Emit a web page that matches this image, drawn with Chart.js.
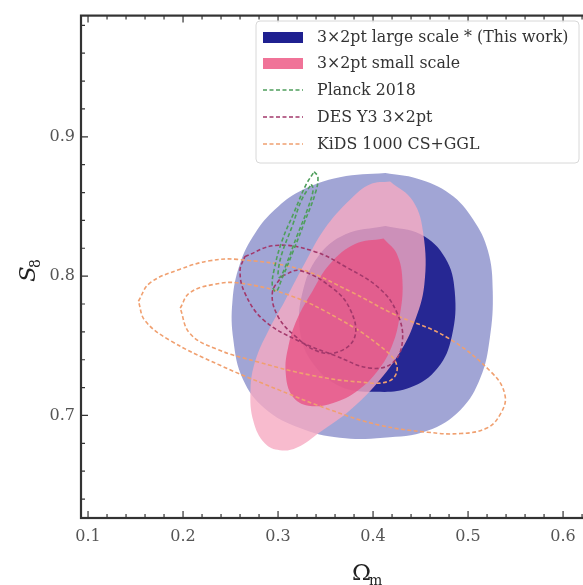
<!DOCTYPE html>
<html><head><meta charset="utf-8">
<script src="https://cdn.jsdelivr.net/npm/chart.js@4.4.1/dist/chart.umd.min.js"></script>
<style>html,body{margin:0;padding:0;overflow:hidden;background:#fff;width:583px;height:585px}
#wrap{width:650px;height:585px}</style></head><body>
<div id="wrap"><canvas id="c" width="650" height="585"></canvas></div>
<script>
// ---- tick labels ----
const xTicks = [0.1, 0.2, 0.3, 0.4, 0.5, 0.6];
const yTicks = [0.7, 0.8, 0.9];
const xMinor = [0.12,0.14,0.16,0.18,0.22,0.24,0.26,0.28,0.32,0.34,0.36,0.38,0.42,0.44,0.46,0.48,0.52,0.54,0.56,0.58,0.62,0.64,0.66,0.68];
const yMinor = [0.64,0.66,0.68,0.72,0.74,0.76,0.78,0.82,0.84,0.86,0.88,0.92,0.94,0.96,0.98];
const legendLabels = ["3\u00d72pt large scale * (This work)", "3\u00d72pt small scale", "Planck 2018", "DES Y3 3\u00d72pt", "KiDS 1000 CS+GGL"];

// ---- contour vertices (Omega_m, S8) ----
const large2 = [[0.413,0.874],[0.446,0.870],[0.481,0.859],[0.505,0.841],[0.521,0.818],[0.526,0.789],[0.523,0.756],[0.513,0.727],[0.492,0.704],[0.457,0.689],[0.411,0.684],[0.365,0.684],[0.323,0.691],[0.286,0.705],[0.263,0.726],[0.253,0.754],[0.252,0.782],[0.260,0.809],[0.276,0.831],[0.297,0.848],[0.323,0.861],[0.365,0.871]];
const large1 = [[0.413,0.836],[0.450,0.830],[0.476,0.813],[0.486,0.789],[0.483,0.757],[0.468,0.734],[0.439,0.720],[0.402,0.717],[0.365,0.721],[0.336,0.738],[0.323,0.761],[0.326,0.789],[0.342,0.814],[0.371,0.830]];
const small2 = [[0.418,0.868],[0.442,0.854],[0.453,0.830],[0.454,0.794],[0.443,0.766],[0.428,0.745],[0.404,0.723],[0.376,0.704],[0.344,0.688],[0.320,0.677],[0.302,0.675],[0.286,0.680],[0.274,0.696],[0.271,0.718],[0.276,0.739],[0.290,0.761],[0.307,0.782],[0.328,0.809],[0.349,0.834],[0.376,0.855],[0.397,0.866]];
const small1 = [[0.411,0.827],[0.425,0.816],[0.431,0.796],[0.428,0.771],[0.420,0.750],[0.405,0.732],[0.384,0.718],[0.358,0.709],[0.332,0.707],[0.315,0.714],[0.308,0.731],[0.311,0.750],[0.320,0.769],[0.336,0.789],[0.355,0.809],[0.381,0.823]];
const planck2 = [[0.338,0.875],[0.342,0.871],[0.339,0.859],[0.328,0.839],[0.316,0.818],[0.304,0.798],[0.298,0.789],[0.294,0.793],[0.296,0.805],[0.304,0.825],[0.317,0.846],[0.329,0.865]];
const planck1 = [[0.335,0.866],[0.337,0.862],[0.331,0.848],[0.320,0.829],[0.309,0.809],[0.302,0.799],[0.300,0.802],[0.304,0.816],[0.315,0.836],[0.325,0.855]];
const des2 = [[0.265,0.814],[0.297,0.822],[0.337,0.818],[0.373,0.806],[0.407,0.791],[0.425,0.774],[0.431,0.754],[0.421,0.738],[0.397,0.734],[0.360,0.743],[0.320,0.754],[0.284,0.769],[0.265,0.788],[0.260,0.804]];
const des1 = [[0.304,0.800],[0.323,0.804],[0.358,0.791],[0.376,0.776],[0.381,0.757],[0.365,0.746],[0.342,0.746],[0.318,0.757],[0.300,0.771],[0.294,0.788]];
const kids2 = [[0.153,0.782],[0.165,0.795],[0.197,0.805],[0.228,0.811],[0.257,0.812],[0.323,0.805],[0.376,0.789],[0.421,0.773],[0.478,0.756],[0.526,0.730],[0.539,0.714],[0.534,0.701],[0.520,0.691],[0.492,0.687],[0.457,0.688],[0.407,0.693],[0.355,0.704],[0.302,0.718],[0.239,0.736],[0.186,0.754],[0.160,0.768]];
const kids1 = [[0.197,0.777],[0.207,0.788],[0.232,0.794],[0.260,0.795],[0.313,0.786],[0.365,0.769],[0.407,0.750],[0.425,0.736],[0.418,0.725],[0.386,0.724],[0.334,0.729],[0.281,0.738],[0.234,0.748],[0.207,0.759]];

const closed = arr => arr.concat([arr[0]]).map(p => ({x: p[0], y: p[1]}));
const filled = (d, color, order) => ({data: closed(d), showLine: true, fill: 'shape', backgroundColor: color, borderColor: 'rgba(0,0,0,0)', borderWidth: 0, pointRadius: 0, tension: 0.4, order});
const dashed = (d, color, order) => ({data: closed(d), showLine: true, fill: false, borderColor: color, borderWidth: 1.6, borderDash: [4, 2.5], pointRadius: 0, tension: 0.4, order});

const colLarge2 = 'rgba(40,50,160,0.44)', colLarge1 = 'rgba(25,25,140,0.9)';
const colSmall2 = 'rgba(246,170,194,0.8)', colSmall1 = 'rgba(232,82,132,0.8)';
const colPlanck = '#4f9e5c', colDES = '#a3386b', colKiDS = '#f0a070';

const SERIF = '"DejaVu Serif", "Liberation Serif", serif';

const decor = {
  id: 'decor',
  afterDraw(chart) {
    const {ctx, chartArea: a, scales: {x, y}} = chart;
    ctx.save();
    ctx.strokeStyle = '#333';
    ctx.lineWidth = 1.2;
    ctx.beginPath();
    xMinor.forEach(v => { const p = x.getPixelForValue(v); ctx.moveTo(p, a.bottom); ctx.lineTo(p, a.bottom - 4); ctx.moveTo(p, a.top); ctx.lineTo(p, a.top + 4); });
    yMinor.forEach(v => { const p = y.getPixelForValue(v); ctx.moveTo(a.left, p); ctx.lineTo(a.left + 4, p); ctx.moveTo(a.right, p); ctx.lineTo(a.right - 4, p); });
    xTicks.forEach(v => { const p = x.getPixelForValue(v); ctx.moveTo(p, a.bottom); ctx.lineTo(p, a.bottom - 7); ctx.moveTo(p, a.top); ctx.lineTo(p, a.top + 7); });
    yTicks.forEach(v => { const p = y.getPixelForValue(v); ctx.moveTo(a.left, p); ctx.lineTo(a.left + 7, p); ctx.moveTo(a.right, p); ctx.lineTo(a.right - 7, p); });
    ctx.stroke();
    ctx.lineWidth = 2.2;
    ctx.strokeRect(a.left, a.top, a.right - a.left, a.bottom - a.top);

    // axis titles
    ctx.fillStyle = '#222';
    ctx.textBaseline = 'alphabetic';
    ctx.font = '23px ' + SERIF;
    ctx.fillText('\u03a9', 352, 580);
    ctx.font = '14px ' + SERIF;
    ctx.fillText('m', 369, 585);
    ctx.save();
    ctx.translate(35, 282);
    ctx.rotate(-Math.PI / 2);
    ctx.font = 'italic 23px ' + SERIF;
    ctx.fillText('S', 0, 0);
    ctx.font = '14px ' + SERIF;
    ctx.fillText('8', 14, 5);
    ctx.restore();

    // legend
    const L = 256, T = 21, R = 579, B = 163, r = 4;
    ctx.beginPath();
    ctx.moveTo(L + r, T); ctx.lineTo(R - r, T); ctx.quadraticCurveTo(R, T, R, T + r);
    ctx.lineTo(R, B - r); ctx.quadraticCurveTo(R, B, R - r, B);
    ctx.lineTo(L + r, B); ctx.quadraticCurveTo(L, B, L, B - r);
    ctx.lineTo(L, T + r); ctx.quadraticCurveTo(L, T, L + r, T);
    ctx.closePath();
    ctx.fillStyle = 'rgba(255,255,255,0.85)';
    ctx.fill();
    ctx.strokeStyle = '#d8d8d8';
    ctx.lineWidth = 1;
    ctx.stroke();
    const rows = [37, 63, 90, 117, 144];
    ctx.fillStyle = '#1f2090'; ctx.fillRect(263, rows[0] - 5, 40, 11);
    ctx.fillStyle = '#f07398'; ctx.fillRect(263, rows[1] - 5, 40, 11);
    [[colPlanck, 2], [colDES, 3], [colKiDS, 4]].forEach(([c, i]) => {
      ctx.strokeStyle = c; ctx.lineWidth = 1.6; ctx.setLineDash([4, 2.5]);
      ctx.beginPath(); ctx.moveTo(263, rows[i]); ctx.lineTo(303, rows[i]); ctx.stroke();
    });
    ctx.setLineDash([]);
    ctx.fillStyle = '#333';
    ctx.font = '15.8px ' + SERIF;
    ctx.textBaseline = 'middle';
    legendLabels.forEach((t, i) => ctx.fillText(t, 317, rows[i] + 1));
    ctx.restore();
  }
};

new Chart(document.getElementById('c'), {
  type: 'scatter',
  data: {
    datasets: [
      filled(large2, colLarge2, 20),
      filled(large1, colLarge1, 19),
      filled(small2, colSmall2, 18),
      filled(small1, colSmall1, 17),
      dashed(kids2, colKiDS, 16),
      dashed(kids1, colKiDS, 15),
      dashed(des2, colDES, 14),
      dashed(des1, colDES, 13),
      dashed(planck2, colPlanck, 12),
      dashed(planck1, colPlanck, 11)
    ]
  },
  options: {
    responsive: false,
    animation: false,
    devicePixelRatio: 1,
    layout: {padding: {left: 0, top: 13, right: 2, bottom: 0}},
    plugins: {legend: {display: false}, tooltip: {enabled: false}},
    scales: {
      x: {
        type: 'linear', min: 0.0926, max: 0.6894,
        afterFit: s => { s.height = 67; },
        afterBuildTicks: s => { s.ticks = xTicks.map(v => ({value: v})); },
        grid: {display: false, drawTicks: false},
        border: {display: false},
        ticks: {padding: 9, color: '#555', font: {family: SERIF, size: 16}, callback: v => v.toFixed(1)}
      },
      y: {
        type: 'linear', min: 0.6264, max: 0.987,
        afterFit: s => { s.width = 81; },
        afterBuildTicks: s => { s.ticks = yTicks.map(v => ({value: v})); },
        grid: {display: false, drawTicks: false},
        border: {display: false},
        ticks: {padding: 6, color: '#555', font: {family: SERIF, size: 16}, callback: v => v.toFixed(1)}
      }
    }
  },
  plugins: [decor]
});
</script></body></html>
